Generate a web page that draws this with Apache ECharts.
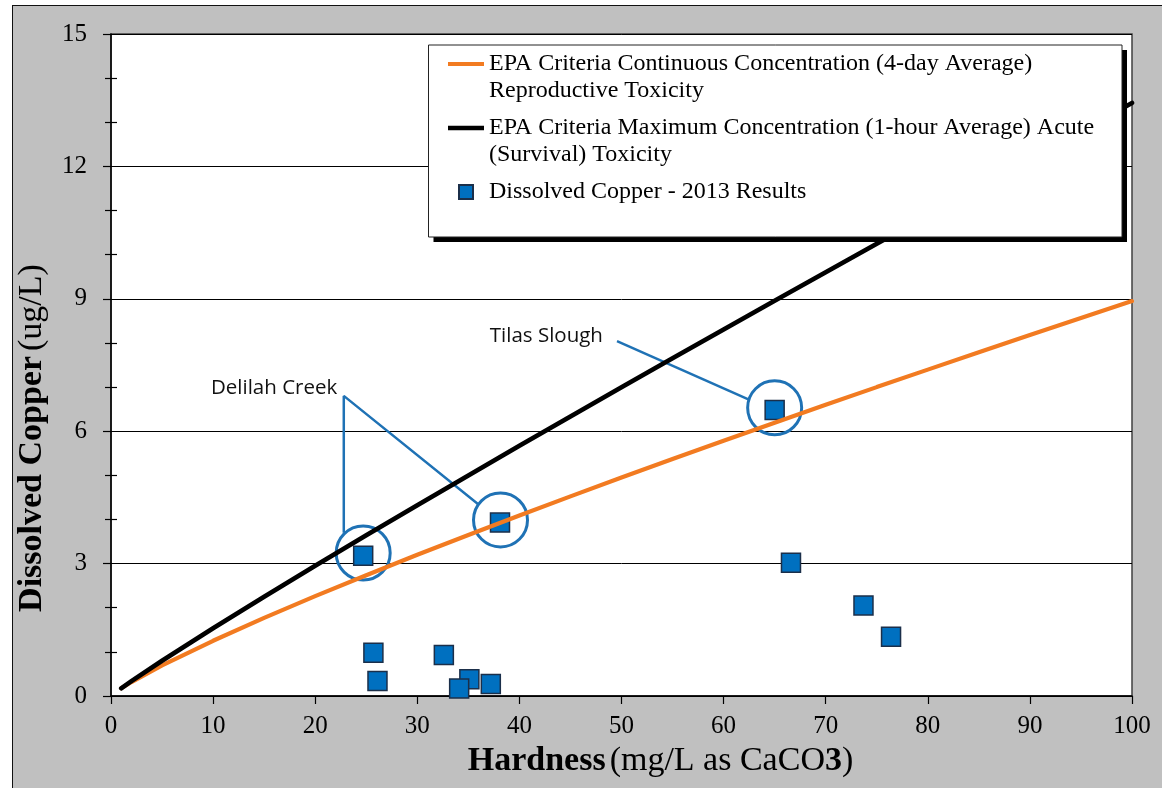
<!DOCTYPE html>
<html><head><meta charset="utf-8">
<script src="https://cdn.jsdelivr.net/npm/echarts@6/dist/echarts.min.js"></script>
<style>
html,body{margin:0;padding:0;background:#fff;width:1162px;height:788px;overflow:hidden;}
#panel{position:absolute;left:12px;top:5px;width:1150px;height:783px;background:#c0c0c0;border-left:1.5px solid #111;border-top:1.5px solid #111;box-sizing:border-box;}
#chart{position:absolute;left:0;top:0;width:1162px;height:788px;}
</style></head><body><div id="panel"></div><div id="chart"></div>
<script>
// Hardness (mg/L as CaCO3) for the criteria curves
const hardness = [1, 2, 5, 10, 15, 20, 25, 30, 35, 40, 45, 50, 55, 60, 65, 70, 75, 80, 85, 90, 95, 100];
// EPA Criteria Continuous Concentration (orange)
const cccCopper = [0.175, 0.316, 0.692, 1.251, 1.769, 2.262, 2.737, 3.199, 3.649, 4.091, 4.523, 4.949, 5.369, 5.784, 6.193, 6.597, 6.999, 7.395, 7.790, 8.178, 8.565, 8.948];
// EPA Criteria Maximum Concentration (black)
const cmcCopper = [0.175, 0.337, 0.799, 1.535, 2.249, 2.950, 3.641, 4.323, 4.998, 5.668, 6.334, 6.995, 7.653, 8.306, 8.956, 9.603, 10.247, 10.889, 11.530, 12.167, 12.805, 13.439];
// Dissolved copper 2013 results
const sampleHardness = [24.7, 38.1, 65.0, 66.6, 73.7, 76.4, 25.7, 26.1, 32.6, 35.1, 34.1, 37.2];
const sampleCopper   = [3.18, 3.93, 6.48, 3.02, 2.05, 1.34, 0.98, 0.34, 0.93, 0.38, 0.17, 0.27];
// Highlight circles
const circleHardness = [24.7, 38.15, 65.0];
const circleCopper   = [3.24, 3.99, 6.53];
// Leader lines
const delilahLeaderX = [22.8, 22.8, 36.0];
const delilahLeaderY = [3.70, 6.80, 4.34];
const tilasLeaderX = [49.56, 62.43];
const tilasLeaderY = [8.04, 6.72];
// Annotation labels
const annotationNames = ['Delilah Creek', 'Tilas Slough'];
const annotationX = [9.74, 37.05];
const annotationY = [6.97, 8.16];
// Ticks
const xTicks = [0, 10, 20, 30, 40, 50, 60, 70, 80, 90, 100];
const yTicks = [0, 3, 6, 9, 12, 15];
// Names
const nameCCC = 'EPA Criteria Continuous Concentration (4-day Average)\nReproductive Toxicity';
const nameCMC = 'EPA Criteria Maximum Concentration (1-hour Average) Acute\n(Survival) Toxicity';
const nameSamples = 'Dissolved Copper - 2013 Results';

const SERIF = "'Liberation Serif', 'Times New Roman', serif";
const SANS = "'Open Sans', 'Noto Sans', sans-serif";
const BLUE_ANN = '#1f72b5';

const zip = (xs, ys) => xs.map((x, i) => [x, ys[i]]);

const chart = echarts.init(document.getElementById('chart'), null, {renderer: 'canvas'});
const option = {
  animation: false,
  backgroundColor: 'transparent',
  grid: {
    left: 111, right: 30, top: 34, bottom: 92,
    show: true, backgroundColor: '#ffffff', borderColor: '#404040', borderWidth: 1.5
  },
  legend: {
    data: [
      {name: nameCCC, icon: 'path://M0,0L36,0L36,4L0,4Z'},
      {name: nameCMC, icon: 'path://M0,0L36,0L36,4.6L0,4.6Z'},
      {name: nameSamples, icon: 'path://M0,0L10,0L10,10L0,10Z'}
    ],
    orient: 'vertical',
    left: 448, top: 23.5,
    padding: 0,
    itemWidth: 36, itemHeight: 14, itemGap: -17,
    selectedMode: false,
    textStyle: {fontFamily: SERIF, fontSize: 24, color: '#000', lineHeight: 27},
    formatter: name => name.indexOf('\n') >= 0 ? '\n' + name : '\n' + name + '\n',
    z: 5
  },
  graphic: [
    {type: 'rect', z: 3, shape: {x: 433.5, y: 50, width: 693.5, height: 192}, style: {fill: '#000'}},
    {type: 'rect', z: 3.5, shape: {x: 428.5, y: 45, width: 693.5, height: 192}, style: {fill: '#fff', stroke: '#222', lineWidth: 1}}
  ],
  xAxis: {
    type: 'value',
    min: xTicks[0], max: xTicks[xTicks.length - 1], interval: xTicks[1] - xTicks[0],
    name: '{b|Hardness}{g|(mg/L as CaCO}{b|3}{r|)}',
    nameLocation: 'middle', nameGap: 46,
    nameTextStyle: {
      padding: [0, 0, 0, 78],
      rich: {
        b: {fontFamily: SERIF, fontWeight: 'bold', fontSize: 34, color: '#000'},
        g: {fontFamily: SERIF, fontSize: 34, color: '#000', padding: [0, 0, 0, 4]},
        r: {fontFamily: SERIF, fontSize: 34, color: '#000'}
      }
    },
    axisLine: {show: true, onZero: false, lineStyle: {color: '#000', width: 1.5}},
    axisTick: {show: true, inside: false, length: 8, lineStyle: {color: '#000', width: 1.2}},
    axisLabel: {fontFamily: SERIF, fontSize: 25, color: '#000', margin: 18},
    splitLine: {show: false}
  },
  yAxis: [{
    type: 'value',
    min: yTicks[0], max: yTicks[yTicks.length - 1], interval: yTicks[1] - yTicks[0],
    name: '{b|Dissolved Copper}{g|(ug/L)}',
    nameLocation: 'middle', nameGap: 62, nameRotate: 90,
    nameTextStyle: {
      padding: [0, 146, 0, 0],
      rich: {
        b: {fontFamily: SERIF, fontWeight: 'bold', fontSize: 34, color: '#000'},
        g: {fontFamily: SERIF, fontSize: 34, color: '#000', padding: [0, 0, 0, 5]}
      }
    },
    axisLine: {show: true, onZero: false, lineStyle: {color: '#000', width: 1.5}},
    axisTick: {show: true, inside: false, length: 8, lineStyle: {color: '#000', width: 1.2}},
    minorTick: {show: true, splitNumber: 3, length: 6, lineStyle: {color: '#000', width: 1.2}},
    axisLabel: {fontFamily: SERIF, fontSize: 25, color: '#000', margin: 24},
    splitLine: {show: true, lineStyle: {color: '#000', width: 1}}
  }, {
    type: 'value',
    position: 'left',
    min: yTicks[0], max: yTicks[yTicks.length - 1], interval: yTicks[1] - yTicks[0],
    axisLine: {show: false},
    axisTick: {show: false, inside: true},
    minorTick: {show: true, splitNumber: 3, length: 6, lineStyle: {color: '#000', width: 1.2}},
    axisLabel: {show: false},
    splitLine: {show: false}
  }],
  series: [
    {
      name: 'highlight', type: 'scatter', silent: true,
      data: zip(circleHardness, circleCopper),
      symbol: 'circle', symbolSize: 54,
      itemStyle: {color: 'rgba(0,0,0,0)', borderColor: BLUE_ANN, borderWidth: 3, opacity: 1}
    },
    {
      name: 'delilahLeader', type: 'line', silent: true,
      data: zip(delilahLeaderX, delilahLeaderY),
      symbol: 'none', lineStyle: {color: BLUE_ANN, width: 2.5}
    },
    {
      name: 'tilasLeader', type: 'line', silent: true,
      data: zip(tilasLeaderX, tilasLeaderY),
      symbol: 'none', lineStyle: {color: BLUE_ANN, width: 2.5}
    },
    {
      name: 'annotations', type: 'scatter', silent: true,
      data: annotationNames.map((n, i) => ({name: n, value: [annotationX[i], annotationY[i]]})),
      symbolSize: 1, itemStyle: {color: 'rgba(0,0,0,0)', opacity: 1},
      label: {show: true, position: 'right', distance: 0, formatter: p => p.name,
              fontFamily: SANS, fontSize: 20.5, color: '#111', opacity: 1}
    },
    {
      name: nameCCC, type: 'line',
      data: zip(hardness, cccCopper),
      symbol: 'none', color: '#f27b21',
      lineStyle: {color: '#f27b21', width: 4.2, cap: 'round'}
    },
    {
      name: nameCMC, type: 'line',
      data: zip(hardness, cmcCopper),
      symbol: 'none', color: '#000',
      lineStyle: {color: '#000', width: 4.6, cap: 'round'}
    },
    {
      name: nameSamples, type: 'scatter',
      data: zip(sampleHardness, sampleCopper),
      symbol: 'rect', symbolSize: 19,
      itemStyle: {color: '#0070c0', borderColor: '#1b2f4a', borderWidth: 1.5, opacity: 1}
    }
  ]
};
chart.setOption(option);
</script>
</body></html>
